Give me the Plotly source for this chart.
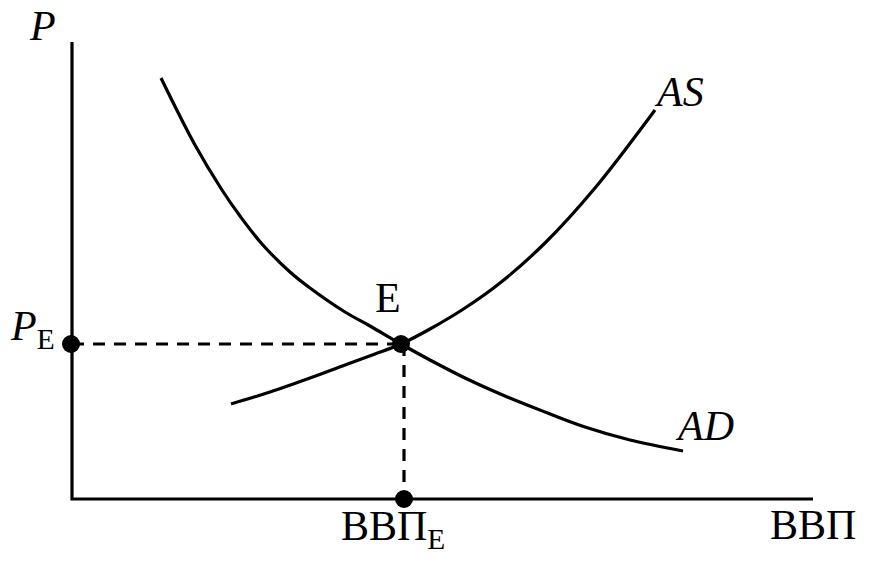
import plotly.graph_objects as go

# Coordinates: origin at axes corner, units ~ pixels of original
ad_x = [89, 123, 150, 168, 190, 218, 238, 273, 298, 329, 358, 393, 433, 473, 513, 558, 611]
ad_y = [421, 354, 309, 283, 255, 227, 211, 187, 173, 155, 139, 121, 103, 87, 72, 59, 48]

as_x = [159, 198, 238, 273, 303, 329, 358, 393, 428, 473, 523, 583]
as_y = [95, 107, 121, 134, 145, 155, 170, 191, 216, 256, 311, 389]

eq_x = 330
eq_y = 155
x_axis_len = 741
y_axis_len = 457

FONT = "Liberation Serif, Times New Roman, DejaVu Serif, serif"
BIG = 42
LW = 3.2

fig = go.Figure()

# axes
fig.add_trace(go.Scatter(x=[0, 0, x_axis_len], y=[y_axis_len, 0, 0], mode="lines",
                         line=dict(color="black", width=LW), hoverinfo="skip"))
# curves
fig.add_trace(go.Scatter(x=ad_x, y=ad_y, mode="lines", line=dict(color="black", width=LW, shape="spline"),
                         hoverinfo="skip"))
fig.add_trace(go.Scatter(x=as_x, y=as_y, mode="lines", line=dict(color="black", width=LW, shape="spline"),
                         hoverinfo="skip"))
# dashed guides
fig.add_trace(go.Scatter(x=[0, eq_x], y=[eq_y, eq_y], mode="lines",
                         line=dict(color="black", width=LW, dash="12px,9px"), hoverinfo="skip"))
fig.add_trace(go.Scatter(x=[eq_x + 2, eq_x + 2], y=[eq_y, 0], mode="lines",
                         line=dict(color="black", width=LW, dash="12px,9px"), hoverinfo="skip"))
# dots
fig.add_trace(go.Scatter(x=[-1, eq_x - 1, eq_x + 2], y=[eq_y, eq_y, 0], mode="markers",
                         marker=dict(color="black", size=18), hoverinfo="skip"))

anns = [
    dict(x=-30, y=498, text="<i>P</i>", size=BIG, ya="top"),
    dict(x=-40, y=170, text="<i>P</i><sub>E</sub>", size=BIG, ya="middle"),
    dict(x=316, y=201, text="E", size=BIG, ya="middle"),
    dict(x=321, y=-30, text="ВВП<sub>E</sub>", size=BIG, ya="middle"),
    dict(x=741, y=-26, text="ВВП", size=BIG, ya="middle"),
    dict(x=607, y=407, text="<i>AS</i>", size=BIG, ya="middle"),
    dict(x=632, y=73, text="<i>AD</i>", size=BIG, ya="middle"),
]
for a in anns:
    fig.add_annotation(x=a["x"], y=a["y"], text=a["text"], showarrow=False,
                       xanchor="center", yanchor=a["ya"],
                       font=dict(family=FONT, size=a["size"], color="black"))

fig.update_layout(
    width=878, height=569,
    margin=dict(l=0, r=0, t=0, b=0),
    paper_bgcolor="white", plot_bgcolor="white",
    showlegend=False,
    font=dict(family=FONT),
    xaxis=dict(range=[-72, 806], visible=False, fixedrange=True),
    yaxis=dict(range=[-70, 499], visible=False, fixedrange=True),
)

fig.write_html("out.html", config={"displayModeBar": False},
               post_script="document.body.style.margin='0';")
